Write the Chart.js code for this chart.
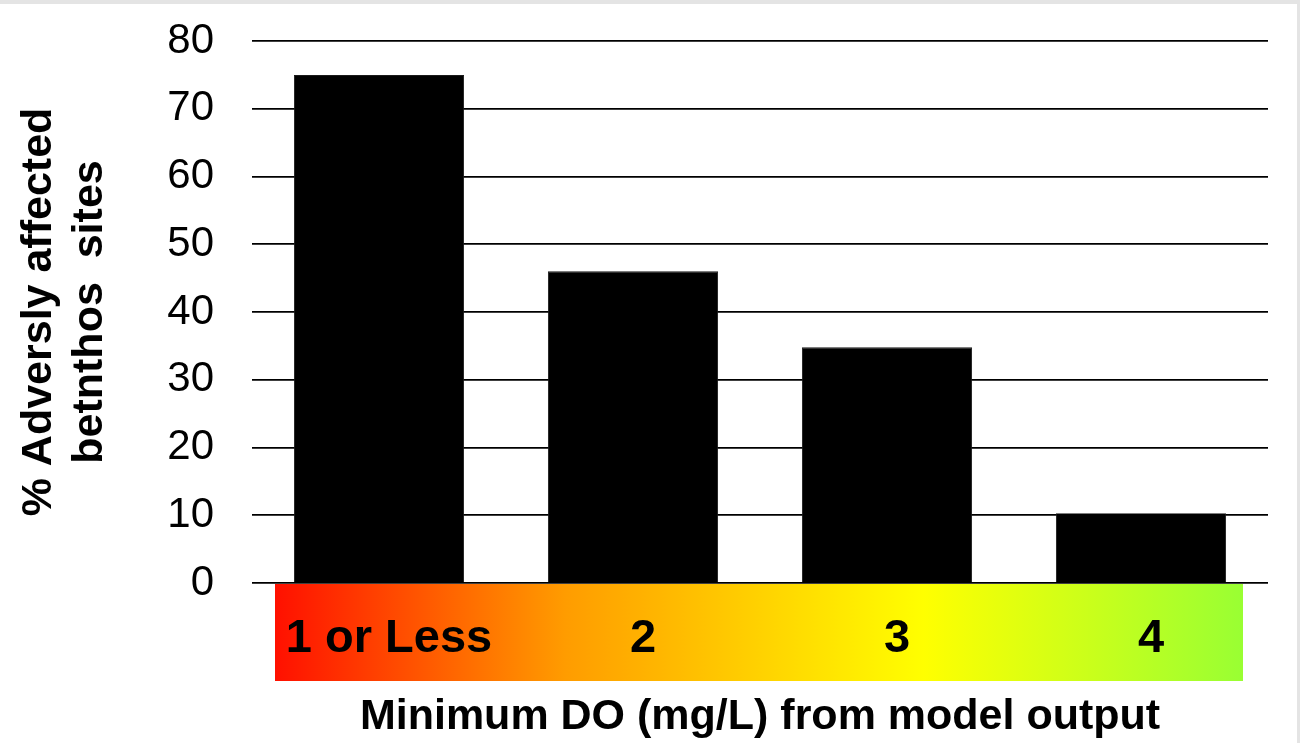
<!DOCTYPE html>
<html>
<head>
<meta charset="utf-8">
<script src="https://cdn.jsdelivr.net/npm/chart.js@4"></script>
<style>
  body { margin: 0; background: #fff; }
  #wrap { width: 1307px; height: 743px; position: relative; }
</style>
</head>
<body>
<div id="wrap"><canvas id="do-chart" width="1307" height="743"></canvas></div>
<script>
const categories = ['1 or Less', '2', '3', '4'];
const affectedPct = [75, 46, 34.8, 10.3];
const yTitle = ['% Adversly affected', 'betnthos  sites'];
const xTitle = 'Minimum DO (mg/L) from model output';

// red -> green band behind the category labels
const bandPlugin = {
    id: 'band',
    beforeDraw(chart) {
        const ctx = chart.ctx;
        const a = chart.chartArea;
        const left = a.left + 23, right = a.right - 25;
        const top = a.bottom + 1, h = 97;
        const g = ctx.createLinearGradient(left, 0, right, 0);
        g.addColorStop(0, '#ff1000');
        g.addColorStop(0.3, '#ff9c00');
        g.addColorStop(0.67, '#ffff00');
        g.addColorStop(1, '#99ff33');
        ctx.save();
        ctx.fillStyle = g;
        ctx.fillRect(left, top, right - left, h);
        ctx.restore();
    },
    afterDraw(chart) {
        const ctx = chart.ctx;
        ctx.save();
        ctx.fillStyle = '#e4e4e4';
        ctx.fillRect(0, 0, 1300, 4);
        ctx.fillRect(1297, 0, 3, 743);
        ctx.restore();
    }
};

new Chart(document.getElementById('do-chart').getContext('2d'), {
    type: 'bar',
    data: {
        labels: categories,
        datasets: [{
            data: affectedPct,
            backgroundColor: '#000',
            borderColor: '#1a1a1a',
            borderWidth: 1,
            categoryPercentage: 0.67,
            barPercentage: 1
        }]
    },
    options: {
        responsive: false,
        animation: false,
        layout: { padding: { top: 41, right: 39, left: 0, bottom: 0 } },
        plugins: { legend: { display: false }, tooltip: { enabled: false } },
        scales: {
            x: {
                grid: { display: false, drawTicks: false },
                border: { display: false },
                ticks: {
                    color: '#000',
                    padding: 28,
                    labelOffset: 10,
                    font: { family: 'Liberation Sans, Arial', size: 47, weight: 'bold' }
                },
                title: {
                    display: true,
                    text: xTitle,
                    color: '#000',
                    padding: { top: 0, bottom: 0 },
                    font: { family: 'Liberation Sans, Arial', size: 43, weight: 'bold' }
                },
                afterFit(axis) { axis.height = 160; }
            },
            y: {
                min: 0,
                max: 80,
                grid: { color: '#000', lineWidth: 1.8, drawTicks: true, tickLength: 38, tickColor: 'rgba(0,0,0,0)' },
                border: { display: false },
                ticks: {
                    stepSize: 10,
                    color: '#000',
                    padding: 0,
                    font: { family: 'Liberation Sans, Arial', size: 42, lineHeight: 1 }
                },
                title: {
                    display: true,
                    text: yTitle,
                    color: '#000',
                    padding: { top: 13, bottom: 0 },
                    font: { family: 'Liberation Sans, Arial', size: 43, weight: 'bold', lineHeight: 1.2 }
                },
                afterFit(axis) { axis.width = 252; }
            }
        }
    },
    plugins: [bandPlugin]
});
</script>
</body>
</html>
